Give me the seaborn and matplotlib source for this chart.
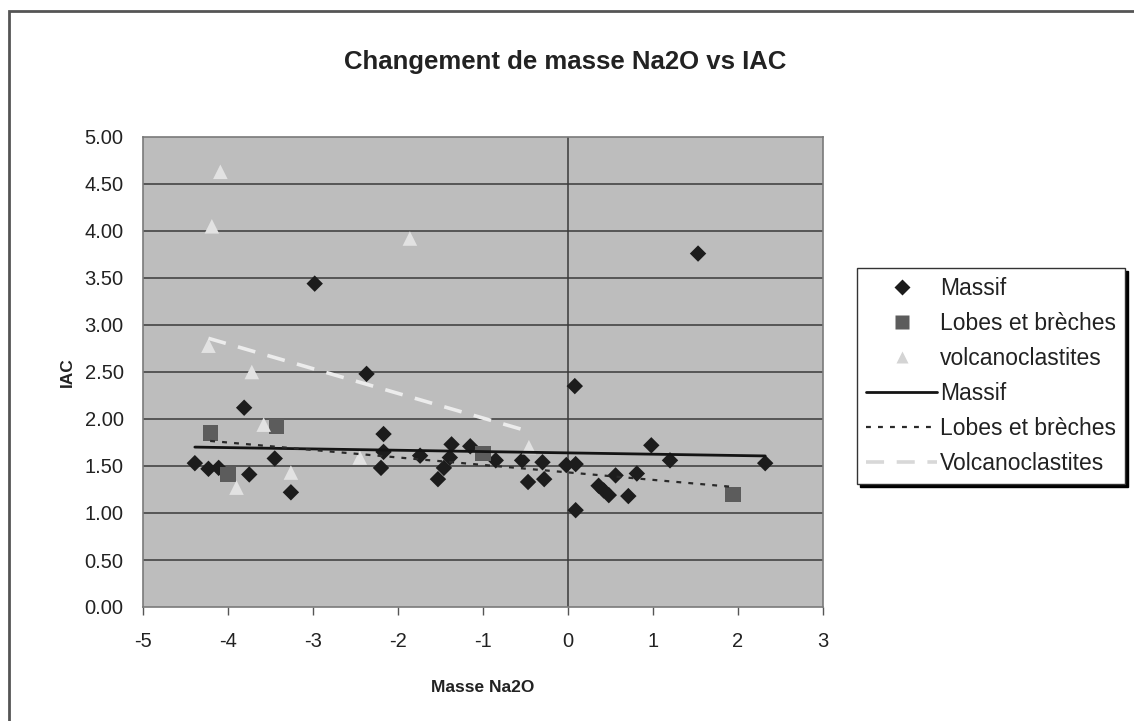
import numpy as np
import pandas as pd
import matplotlib
matplotlib.use("Agg")
import matplotlib.pyplot as plt
from matplotlib.lines import Line2D
from matplotlib.patches import Rectangle
import seaborn as sns

# Mass change of Na2O (x) against the alteration index IAC (y)
massif_x = [-4.39, -4.23, -4.11, -3.81, -3.75, -3.45, -3.26, -2.98, -2.37, -2.20,
            -2.17, -2.17, -1.74, -1.53, -1.46, -1.39, -1.37, -1.15, -0.85, -0.54,
            -0.47, -0.30, -0.28, -0.02, 0.08, 0.09, 0.09, 0.36, 0.42, 0.48,
            0.56, 0.71, 0.81, 0.98, 1.20, 1.53, 2.32]
massif_y = [1.53, 1.47, 1.48, 2.12, 1.41, 1.58, 1.22, 3.44, 2.48, 1.48,
            1.84, 1.65, 1.61, 1.36, 1.48, 1.59, 1.73, 1.71, 1.56, 1.56,
            1.33, 1.54, 1.36, 1.51, 2.35, 1.52, 1.03, 1.29, 1.24, 1.19,
            1.40, 1.18, 1.42, 1.72, 1.56, 3.76, 1.53]

lobes_x = [-4.21, -4.00, -3.43, -1.00, 1.94]
lobes_y = [1.85, 1.41, 1.92, 1.63, 1.20]

volcano_x = [-4.09, -4.19, -1.86, -4.23, -3.72, -3.58, -2.45, -3.26, -3.90, -0.46]
volcano_y = [4.63, 4.05, 3.92, 2.78, 2.50, 1.94, 1.59, 1.43, 1.27, 1.70]

x_ticks = [-5, -4, -3, -2, -1, 0, 1, 2, 3]
y_ticks = [0.0, 0.5, 1.0, 1.5, 2.0, 2.5, 3.0, 3.5, 4.0, 4.5, 5.0]

massif = pd.DataFrame({"x": massif_x, "y": massif_y})
lobes = pd.DataFrame({"x": lobes_x, "y": lobes_y})
volcano = pd.DataFrame({"x": volcano_x, "y": volcano_y})

sns.set_theme(style="white")
plt.rcParams["font.family"] = ["Liberation Sans", "DejaVu Sans"]

W, H = 1134, 721
fig = plt.figure(figsize=(W / 100, H / 100), dpi=100)
fig.patch.set_facecolor("white")
ax = fig.add_axes([143 / W, 1 - 607 / H, 680 / W, 470 / H])
ax.set_facecolor("#bdbdbd")

# horizontal gridlines and the vertical axis through x = 0
for yv in y_ticks[1:-1]:
    ax.axhline(yv, color="#3a3a3a", lw=1.1, zorder=1)
ax.axvline(0, color="#3a3a3a", lw=1.1, zorder=1)

# data points
sns.scatterplot(data=massif, x="x", y="y", ax=ax, marker="D", s=70,
                color="#1c1c1c", edgecolor="none", zorder=3)
sns.scatterplot(data=lobes, x="x", y="y", ax=ax, marker="s", s=120,
                color="#5c5c5c", edgecolor="none", zorder=3)
sns.scatterplot(data=volcano, x="x", y="y", ax=ax, marker="^", s=110,
                color="#e2e2e2", edgecolor="none", zorder=3)

# linear trend lines over each group's range
sns.regplot(data=massif, x="x", y="y", ax=ax, scatter=False, ci=None,
            truncate=True, line_kws=dict(color="#141414", lw=2.0, zorder=4))
sns.regplot(data=lobes, x="x", y="y", ax=ax, scatter=False, ci=None,
            truncate=True, line_kws=dict(color="#2a2a2a", lw=1.6,
                                         linestyle=(0, (2.2, 3.2)), zorder=4))
sns.regplot(data=volcano, x="x", y="y", ax=ax, scatter=False, ci=None,
            truncate=True, line_kws=dict(color="#ececec", lw=2.6,
                                         linestyle=(0, (5, 3.5)), zorder=4))

ax.set_xlim(-5, 3)
ax.set_ylim(0, 5)
ax.set_xticks(x_ticks)
ax.set_xticklabels([str(v) for v in x_ticks])
ax.set_yticks(y_ticks)
ax.set_yticklabels([f"{v:.2f}" for v in y_ticks])
ax.tick_params(axis="x", direction="out", length=6, width=1, color="#555555",
               pad=12, labelsize=14.5, labelcolor="#222222", bottom=True)
ax.tick_params(axis="y", length=0, pad=14, labelsize=14.5, labelcolor="#222222")
for sp in ax.spines.values():
    sp.set_color("#7a7a7a")
    sp.set_linewidth(1.2)

ax.set_xlabel("Masse Na2O", fontsize=12.5, fontweight="bold", color="#222222")
ax.set_ylabel("IAC", fontsize=12.5, fontweight="bold", color="#222222")
ax.xaxis.set_label_coords(0.5, -(680 - 607) / 470)
ax.yaxis.set_label_coords((75 - 143) / 680, 0.5)

fig.text(565 / W, 1 - 62 / H, "Changement de masse Na2O vs IAC",
         ha="center", va="center", fontsize=18.5, fontweight="bold",
         color="#222222")

handles = [
    Line2D([], [], linestyle="none", marker="D", markersize=8,
           color="#1c1c1c", markeredgecolor="none"),
    Line2D([], [], linestyle="none", marker="s", markersize=10,
           color="#5c5c5c", markeredgecolor="none"),
    Line2D([], [], linestyle="none", marker="^", markersize=9,
           color="#d4d4d4", markeredgecolor="none"),
    Line2D([], [], color="#141414", lw=2.0),
    Line2D([], [], color="#2a2a2a", lw=1.6, linestyle=(0, (2.2, 3.2))),
    Line2D([], [], color="#d8d8d8", lw=2.6, linestyle=(0, (5, 3.5))),
]
labels = ["Massif", "Lobes et brèches", "volcanoclastites",
          "Massif", "Lobes et brèches", "Volcanoclastites"]
leg = fig.legend(handles, labels, loc="upper left",
                 bbox_to_anchor=(857 / W, 1 - 268 / H),
                 fontsize=16.5, frameon=True, fancybox=False,
                 shadow={"color": "black", "alpha": 1.0},
                 handlelength=3.1, handletextpad=0.12, labelspacing=0.52,
                 borderpad=0.4, borderaxespad=0)
leg.get_frame().set_edgecolor("#333333")
leg.get_frame().set_linewidth(1.0)
for t in leg.get_texts():
    t.set_color("#222222")

# chart outer frame (left and top edges visible)
fig.patches.append(Rectangle((8.5 / W, -0.2), 1.5, 1.2 - 10.5 / H,
                             transform=fig.transFigure, fill=False,
                             edgecolor="#555555", lw=2.0))

fig.savefig("out.png", dpi=100, facecolor="white")
